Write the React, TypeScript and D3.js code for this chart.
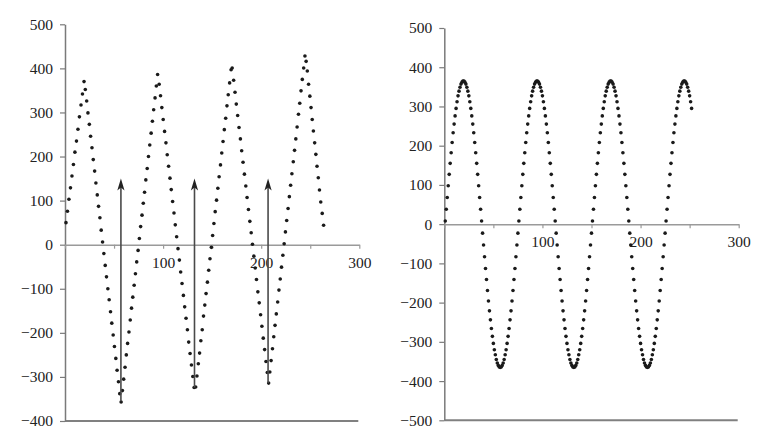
import { useRef, useEffect } from 'react';
import * as d3 from 'd3';

const W = 759;
const H = 432;
const font = "'Liberation Serif', 'DejaVu Serif', serif";

// left panel: points (x, value)
const leftX = [
  1.0, 2.5, 4.0, 5.6, 7.1, 8.6, 10.1, 11.7, 13.2, 14.7, 16.3, 17.8, 19.4,
  20.7, 22.1, 23.4, 24.8, 26.1, 27.5, 28.8, 30.2, 31.5, 32.9, 34.2, 35.6, 36.9, 38.3, 39.6, 41.0,
  42.3, 43.7, 45.0, 46.4, 47.7, 49.1, 50.4, 51.8, 53.1, 54.5, 55.8, 57.2,
  58.5, 59.8, 61.2, 62.5, 63.8, 65.2, 66.5, 67.8, 69.1, 70.5, 71.8, 73.1, 74.5, 75.8, 77.1, 78.5,
  79.8, 81.1, 82.4, 83.8, 85.1, 86.4, 87.8, 89.1, 90.4, 91.8, 93.1, 94.4,
  96.0, 97.4, 98.7, 100.1, 101.5, 102.9, 104.2, 105.6, 107.0, 108.3, 109.7, 111.1, 112.4, 113.8,
  115.2, 116.6, 117.9, 119.3, 120.7, 122.0, 123.4, 124.8, 126.1, 127.5, 128.9, 130.3, 131.6,
  133.2, 134.5, 135.9, 137.2, 138.5, 139.9, 141.2, 142.5, 143.8, 145.2, 146.5, 147.8, 149.2, 150.5,
  151.8, 153.1, 154.5, 155.8, 157.1, 158.5, 159.8, 161.1, 162.4, 163.8, 165.1, 166.4, 167.8, 169.3, 170.4,
  171.9, 173.3, 174.6, 176.0, 177.4, 178.8, 180.1, 181.5, 182.9, 184.3, 185.6, 187.0, 188.4, 189.8,
  191.1, 192.5, 193.9, 195.2, 196.6, 198.0, 199.4, 200.7, 202.1, 203.5, 204.9, 206.2, 207.6,
  208.8, 210.1, 211.5, 212.8, 214.1, 215.4, 216.8, 218.1, 219.4, 220.7, 222.1, 223.4, 224.7, 226.0,
  227.4, 228.7, 230.0, 231.3, 232.7, 234.0, 235.3, 236.6, 238.0, 239.3, 240.6, 241.9, 243.3, 244.6,
  245.8, 247.0, 248.3, 249.6, 250.8, 252.0, 253.2, 254.5, 255.7, 256.9, 258.2, 259.4, 260.7, 262.2, 263.6,
];
const leftY = [
  50, 76, 103, 129, 156, 182, 210, 235, 262, 290, 317, 342, 370,
  352, 326, 299, 273, 246, 220, 193, 167, 140, 113, 87, 61, 33, 6, -20, -47,
  -73, -100, -125, -152, -178, -205, -231, -258, -285, -311, -338, -357,
  -331, -305, -278, -250, -224, -198, -171, -144, -119, -92, -66, -39, -13, 14, 41, 67,
  94, 119, 147, 173, 200, 226, 253, 280, 306, 333, 360, 386,
  364, 338, 311, 284, 257, 231, 204, 178, 151, 125, 98, 72, 45, 18,
  -9, -35, -62, -88, -115, -141, -167, -193, -221, -247, -273, -299, -324,
  -323, -298, -270, -246, -218, -193, -162, -137, -111, -85, -58, -32, -6, 21,
  48, 75, 101, 128, 154, 181, 208, 234, 261, 287, 315, 340, 367, 397, 401,
  373, 346, 319, 293, 266, 240, 213, 187, 160, 133, 107, 80, 53, 27,
  1, -26, -53, -79, -107, -132, -159, -185, -212, -238, -265, -290, -314,
  -289, -263, -236, -209, -183, -157, -130, -103, -78, -51, -24, 2, 29, 55,
  82, 109, 135, 161, 188, 214, 240, 267, 296, 321, 349, 375, 401, 428,
  416, 394, 364, 337, 311, 284, 258, 231, 205, 178, 152, 124, 97, 71, 44,
];

// arrows under the troughs of the left panel
const arrowX = [57, 132, 207];
const arrowFrom = [-355, -324, -314];
const arrowTo = 150;

// right panel: one value per x = 1, 2, 3 ...
const rightY = [
  8, 38, 68, 98, 127, 155, 182, 208, 233, 255, 276, 295, 312, 327, 339, 349, 357, 362, 365,
  365, 362, 357, 349, 339, 327, 312, 295, 276, 255, 233, 208, 182, 155, 127, 98, 68, 38, 8,
  -23, -53, -83, -113, -141, -169, -196, -221, -244, -266, -286, -304, -320, -333, -345, -354, -360, -364,
  -365, -364, -360, -354, -345, -333, -320, -304, -286, -266, -244, -221, -196, -169, -141, -113, -83, -53, -23,
  8, 38, 68, 98, 127, 155, 182, 208, 233, 255, 276, 295, 312, 327, 339, 349, 357, 362, 365,
  365, 362, 357, 349, 339, 327, 312, 295, 276, 255, 233, 208, 182, 155, 127, 98, 68, 38, 8,
  -23, -53, -83, -113, -141, -169, -196, -221, -244, -266, -286, -304, -320, -333, -345, -354, -360, -364,
  -365, -364, -360, -354, -345, -333, -320, -304, -286, -266, -244, -221, -196, -169, -141, -113, -83, -53, -23,
  8, 38, 68, 98, 127, 155, 182, 208, 233, 255, 276, 295, 312, 327, 339, 349, 357, 362, 365,
  365, 362, 357, 349, 339, 327, 312, 295, 276, 255, 233, 208, 182, 155, 127, 98, 68, 38, 8,
  -23, -53, -83, -113, -141, -169, -196, -221, -244, -266, -286, -304, -320, -333, -345, -354, -360, -364,
  -365, -364, -360, -354, -345, -333, -320, -304, -286, -266, -244, -221, -196, -169, -141, -113, -83, -53, -23,
  8, 38, 68, 98, 127, 155, 182, 208, 233, 255, 276, 295, 312, 327, 339, 349, 357, 362, 365,
  365, 362, 357, 349, 339, 327, 312, 295,
];
const rightX = rightY.map((_, i) => i + 1);

const leftYTicks = [500, 400, 300, 200, 100, 0, -100, -200, -300, -400];
const rightYTicks = [500, 400, 300, 200, 100, 0, -100, -200, -300, -400, -500];
const xTicks = [0, 50, 100, 150, 200, 250, 300];
const xLabels = [100, 200, 300];

const styleAxis = (g, stroke) => {
  g.selectAll('path').attr('stroke', stroke).attr('stroke-width', 1.5);
  g.selectAll('line').attr('stroke', stroke).attr('stroke-width', 1.2);
  g.selectAll('text')
    .attr('fill', '#222')
    .style('font-family', font)
    .style('font-size', '15.5px');
};

const drawPanel = (svg, x, y, yTicks, xs, ys) => {
  const [x0, x1] = x.range();
  const [yBottom] = y.range();

  // bottom frame line
  svg
    .append('line')
    .attr('x1', x0)
    .attr('x2', x1 - 1)
    .attr('y1', yBottom)
    .attr('y2', yBottom)
    .attr('stroke', '#808080')
    .attr('stroke-width', 2);

  // y axis
  svg
    .append('g')
    .attr('transform', `translate(${x0},0)`)
    .call(d3.axisLeft(y).tickValues(yTicks).tickSize(5).tickSizeOuter(0).tickPadding(7))
    .call((g) => styleAxis(g, '#7a7a7a'));

  // x axis through zero
  svg
    .append('g')
    .attr('transform', `translate(0,${y(0)})`)
    .call(
      d3
        .axisBottom(x)
        .tickValues(xTicks)
        .tickSize(4)
        .tickSizeOuter(0)
        .tickPadding(8)
        .tickFormat((d) => (xLabels.includes(d) ? String(d) : ''))
    )
    .call((g) => styleAxis(g, '#9a9a9a'));

  svg
    .append('g')
    .selectAll('circle')
    .data(xs.map((v, i) => [v, ys[i]]))
    .enter()
    .append('circle')
    .attr('cx', (d) => x(d[0]))
    .attr('cy', (d) => y(d[1]))
    .attr('r', 1.8)
    .attr('fill', '#1a1a1a');
};

const Chart = () => {
  const ref = useRef(null);

  useEffect(() => {
    const svg = d3.select(ref.current);
    svg.selectAll('*').remove();

    const xL = d3.scaleLinear().domain([0, 300]).range([65, 359.3]);
    const yL = d3.scaleLinear().domain([-400, 500]).range([421, 24.3]);
    const xR = d3.scaleLinear().domain([0, 300]).range([444.3, 738.7]);
    const yR = d3.scaleLinear().domain([-500, 500]).range([420.3, 28]);

    drawPanel(svg, xL, yL, leftYTicks, leftX, leftY);
    drawPanel(svg, xR, yR, rightYTicks, rightX, rightY);

    // arrows
    const arrows = svg
      .append('g')
      .selectAll('g')
      .data(arrowX.map((v, i) => ({ x: v, from: arrowFrom[i] })))
      .enter()
      .append('g');

    arrows
      .append('line')
      .attr('x1', (d) => xL(d.x))
      .attr('x2', (d) => xL(d.x))
      .attr('y1', (d) => yL(d.from))
      .attr('y2', yL(arrowTo) + 8)
      .attr('stroke', '#4a4a4a')
      .attr('stroke-width', 1.6);

    arrows
      .append('path')
      .attr('d', (d) => {
        const ax = xL(d.x);
        const ty = yL(arrowTo);
        return `M${ax},${ty} L${ax - 3.6},${ty + 12} L${ax},${ty + 9} L${ax + 3.6},${ty + 12} Z`;
      })
      .attr('fill', '#222');
  }, []);

  return (
    <svg
      ref={ref}
      width={W}
      height={H}
      style={{ position: 'absolute', left: 0, top: 0, background: 'white' }}
    ></svg>
  );
};

export default function App() {
  return <Chart />;
}
